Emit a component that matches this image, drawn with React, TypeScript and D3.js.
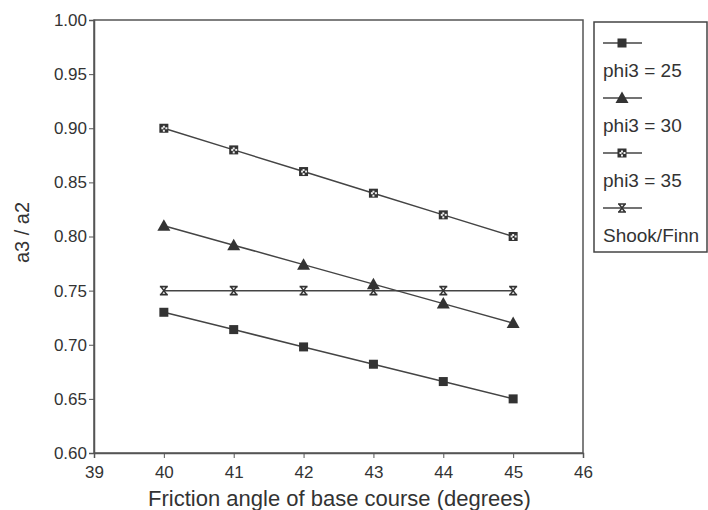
import React, { useEffect, useRef } from 'react';
import * as d3 from 'd3';

// friction angle of base course (degrees)
const angles = [40, 41, 42, 43, 44, 45];

const phi25 = [0.73, 0.714, 0.698, 0.682, 0.666, 0.65];
const phi30 = [0.81, 0.792, 0.774, 0.756, 0.738, 0.72];
const phi35 = [0.9, 0.88, 0.86, 0.84, 0.82, 0.8];
const shookFinn = [0.75, 0.75, 0.75, 0.75, 0.75, 0.75];

const seriesNames = ['phi3 = 25', 'phi3 = 30', 'phi3 = 35', 'Shook/Finn'];
const seriesMarkers = ['square', 'triangle', 'checker', 'hourglass'];

const xTicks = [39, 40, 41, 42, 43, 44, 45, 46];
const yTicks = [0.6, 0.65, 0.7, 0.75, 0.8, 0.85, 0.9, 0.95, 1.0];

const FONT = 'Liberation Sans, Arial, sans-serif';
const INK = '#333';

const App = () => {
  const ref = useRef<SVGSVGElement>(null);

  useEffect(() => {
    const svg = d3.select(ref.current);
    svg.selectAll('*').remove();

    const width = 708;
    const height = 510;
    const margin = { top: 20, right: 125, bottom: 57, left: 94 };

    svg.attr('width', width).attr('height', height);

    const x = d3.scaleLinear()
      .domain([39, 46])
      .range([margin.left, width - margin.right]);

    const y = d3.scaleLinear()
      .domain([0.6, 1.0])
      .range([height - margin.bottom, margin.top]);

    // marker drawing helper
    const drawMarker = (g, kind, cx, cy) => {
      if (kind === 'square') {
        g.append('rect')
          .attr('x', cx - 4.5).attr('y', cy - 4.5)
          .attr('width', 9).attr('height', 9)
          .attr('fill', INK);
      } else if (kind === 'triangle') {
        g.append('path')
          .attr('d', `M${cx},${cy - 6.5}L${cx + 6.5},${cy + 5}L${cx - 6.5},${cy + 5}Z`)
          .attr('fill', INK);
      } else if (kind === 'checker') {
        g.append('rect')
          .attr('x', cx - 4.5).attr('y', cy - 4.5)
          .attr('width', 9).attr('height', 9)
          .attr('fill', INK);
        // light cells on the ring around a dark centre
        [[-2.5, -1], [1.5, -1], [-1, -2.5], [-1, 1.5]].forEach(([dx, dy]) => {
          g.append('rect')
            .attr('x', cx + dx).attr('y', cy + dy)
            .attr('width', 2).attr('height', 2)
            .attr('fill', '#eee');
        });
      } else {
        g.append('path')
          .attr('d', `M${cx - 4},${cy - 4}H${cx + 4}M${cx - 4},${cy + 4}H${cx + 4}M${cx - 3},${cy - 4}L${cx + 3},${cy + 4}M${cx + 3},${cy - 4}L${cx - 3},${cy + 4}`)
          .attr('stroke', INK)
          .attr('stroke-width', 1.6)
          .attr('fill', 'none');
      }
    };

    // frame
    svg.append('rect')
      .attr('x', margin.left).attr('y', margin.top)
      .attr('width', width - margin.left - margin.right)
      .attr('height', height - margin.top - margin.bottom)
      .attr('fill', 'none')
      .attr('stroke', '#555')
      .attr('stroke-width', 1.5);

    // axes
    const yAxis = svg.append('g')
      .attr('transform', `translate(${margin.left},0)`)
      .call(d3.axisLeft(y).tickValues(yTicks).tickFormat(d3.format('.2f')).tickSize(5).tickPadding(2));
    yAxis.select('.domain').attr('stroke', '#555').attr('stroke-width', 1.5);
    yAxis.selectAll('line').attr('stroke', '#555');
    yAxis.selectAll('text')
      .attr('font-family', FONT).attr('font-size', 17).attr('fill', INK);

    const xAxis = svg.append('g')
      .attr('transform', `translate(0,${height - margin.bottom})`)
      .call(d3.axisBottom(x).tickValues(xTicks).tickFormat(d3.format('d')).tickSize(5).tickPadding(8));
    xAxis.select('.domain').attr('stroke', '#555').attr('stroke-width', 1.5);
    xAxis.selectAll('line').attr('stroke', '#555');
    xAxis.selectAll('text')
      .attr('font-family', FONT).attr('font-size', 17).attr('fill', INK);

    // axis titles
    svg.append('text')
      .attr('x', (margin.left + width - margin.right) / 2 + 1)
      .attr('y', 506)
      .attr('text-anchor', 'middle')
      .attr('font-family', FONT)
      .attr('font-size', 22)
      .attr('fill', INK)
      .text('Friction angle of base course (degrees)');

    svg.append('text')
      .attr('transform', `translate(22,${(margin.top + height - margin.bottom) / 2 - 4}) rotate(-90)`)
      .attr('text-anchor', 'middle')
      .attr('dy', '0.35em')
      .attr('font-family', FONT)
      .attr('font-size', 20)
      .attr('fill', INK)
      .text('a3 / a2');

    // series
    const allSeries = [phi25, phi30, phi35, shookFinn];
    const line = d3.line<number>()
      .x((d, i) => x(angles[i]))
      .y(d => y(d));

    allSeries.forEach((vals, s) => {
      svg.append('path')
        .datum(vals)
        .attr('d', line)
        .attr('fill', 'none')
        .attr('stroke', '#444')
        .attr('stroke-width', 1.5);
      const g = svg.append('g');
      vals.forEach((v, i) => drawMarker(g, seriesMarkers[s], x(angles[i]), y(v)));
    });

    // legend
    svg.append('rect')
      .attr('x', 594).attr('y', 22)
      .attr('width', 113).attr('height', 230)
      .attr('fill', '#fff')
      .attr('stroke', '#444')
      .attr('stroke-width', 1.5);

    seriesNames.forEach((name, s) => {
      const ly = 43 + s * 55;
      const g = svg.append('g');
      g.append('line')
        .attr('x1', 603).attr('x2', 642)
        .attr('y1', ly).attr('y2', ly)
        .attr('stroke', '#444').attr('stroke-width', 1.5);
      drawMarker(g, seriesMarkers[s], 622, ly);
      g.append('text')
        .attr('x', 603)
        .attr('y', ly + 34)
        .attr('font-family', FONT)
        .attr('font-size', 19)
        .attr('fill', INK)
        .text(name);
    });
  }, []);

  return (
    <svg
      ref={ref}
      style={{ position: 'absolute', left: 0, top: 0, display: 'block', background: '#fff' }}
    />
  );
};

export default App;
